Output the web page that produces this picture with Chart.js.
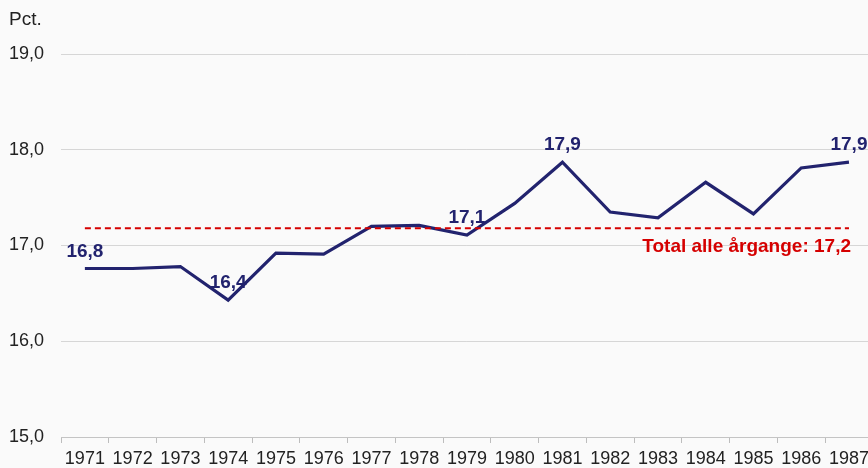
<!DOCTYPE html>
<html>
<head>
<meta charset="utf-8">
<script src="https://cdn.jsdelivr.net/npm/chart.js@4/dist/chart.umd.min.js"></script>
<style>
  html, body { margin: 0; padding: 0; background: #fafafa; overflow: hidden; width: 868px; height: 468px; }
  #wrap { position: absolute; left: 0; top: 0; width: 874px; height: 468px; }
</style>
</head>
<body>
<div id="wrap"><canvas id="c" width="874" height="468"></canvas></div>
<script>
const categories = ['1971','1972','1973','1974','1975','1976','1977','1978','1979','1980','1981','1982','1983','1984','1985','1986','1987'];
const shareValues = [16.76, 16.76, 16.78, 16.43, 16.92, 16.91, 17.20, 17.21, 17.11, 17.44, 17.87, 17.35, 17.29, 17.66, 17.33, 17.81, 17.87];
const labelledPoints = ['1971', '1974', '1979', '1981', '1987'];
const totalAllValue = 17.18;
const totalAllText = 'Total alle årgange: 17,2';
const yTicks = [15, 16, 17, 18, 19];
const unitLabel = 'Pct.';

const FONT = '"Liberation Sans", Arial, sans-serif';
const NAVY = '#22236e';
const RED = '#d50000';

const fmt = v => v.toFixed(1).replace('.', ',');

const overlay = {
  id: 'overlay',
  afterDatasetsDraw(chart) {
    const ctx = chart.ctx;
    const xs = chart.scales.x, ys = chart.scales.y;
    const yRef = ys.getPixelForValue(totalAllValue);
    ctx.save();
    ctx.strokeStyle = RED;
    ctx.lineWidth = 2;
    ctx.setLineDash([6, 4]);
    ctx.beginPath();
    ctx.moveTo(xs.getPixelForValue(0), yRef);
    ctx.lineTo(xs.getPixelForValue(categories.length - 1), yRef);
    ctx.stroke();
    ctx.setLineDash([]);
    ctx.fillStyle = RED;
    ctx.font = 'bold 19px ' + FONT;
    ctx.textAlign = 'right';
    ctx.textBaseline = 'middle';
    ctx.fillText(totalAllText, xs.getPixelForValue(categories.length - 1) + 2, yRef + 19);
    ctx.fillStyle = NAVY;
    ctx.textAlign = 'center';
    labelledPoints.forEach(cat => {
      const i = categories.indexOf(cat);
      const x = xs.getPixelForValue(i);
      const y = ys.getPixelForValue(shareValues[i]);
      ctx.fillText(fmt(shareValues[i]), x, y - 17);
    });
    ctx.fillStyle = '#222';
    ctx.font = '19px ' + FONT;
    ctx.textAlign = 'left';
    ctx.fillText(unitLabel, 9, 20);
    ctx.restore();
  }
};

new Chart(document.getElementById('c'), {
  type: 'line',
  data: {
    labels: categories,
    datasets: [{
      data: shareValues,
      borderColor: NAVY,
      borderWidth: 3.2,
      pointRadius: 0,
      tension: 0,
      fill: false
    }]
  },
  options: {
    responsive: false,
    animation: false,
    layout: { padding: { top: 54, left: 0, right: 0, bottom: 0 } },
    plugins: { legend: { display: false }, tooltip: { enabled: false }, title: { display: false } },
    scales: {
      x: {
        type: 'category',
        offset: true,
        grid: { offset: true, drawOnChartArea: false, drawTicks: true, tickLength: 6, color: '#bdbdbd' },
        border: { display: true, color: '#c4c4c4', width: 1 },
        ticks: { color: '#222', font: { family: FONT, size: 18 }, padding: 5, maxRotation: 0, autoSkip: false },
        afterFit(scale) { scale.height = 31; }
      },
      y: {
        min: 15, max: 19,
        afterBuildTicks(scale) { scale.ticks = yTicks.map(v => ({ value: v })); },
        grid: { color: '#d6d6d6', drawTicks: false, lineWidth: 1 },
        border: { display: false },
        ticks: { color: '#222', font: { family: FONT, size: 18 }, padding: 17, callback: v => fmt(v) },
        afterFit(scale) { scale.width = 61; }
      }
    }
  },
  plugins: [overlay]
});
</script>
</body>
</html>
